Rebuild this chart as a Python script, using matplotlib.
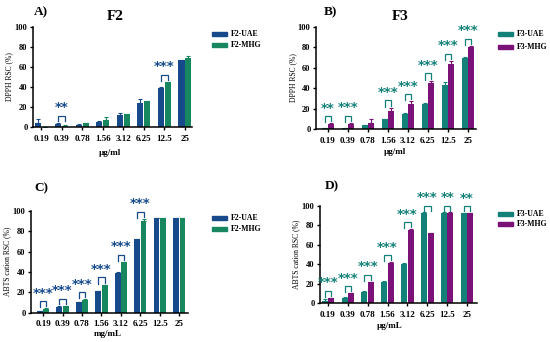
import matplotlib
matplotlib.use("Agg")
import matplotlib.pyplot as plt
from matplotlib.patches import Rectangle
import numpy as np

plt.rcParams['font.family'] = ['Liberation Serif', 'DejaVu Serif']

concentrations = ["0.19", "0.39", "0.78", "1.56", "3.12", "6.25", "12.5", "25"]

# Panel A: F2 DPPH
a_uae = [4, 3.5, 2.5, 5, 12.5, 24.5, 39, 67]
a_uae_err = [4, 1, 1, 1, 2, 3.5, 1, 0.5]
a_mhg = [0, 1.5, 4, 7.5, 13, 26, 45, 69]
a_mhg_err = [0, 0.5, 0.5, 2.5, 0.5, 0.5, 0.5, 2]
a_sig = ["", "**", "", "", "", "", "***", ""]

# Panel B: F3 DPPH
b_uae = [0.5, 1, 3.5, 9.5, 15, 24.5, 43.5, 69.5]
b_uae_err = [0.3, 0.3, 0.5, 0.5, 0.5, 1, 2.5, 1]
b_mhg = [4.5, 5, 6, 17.5, 25, 45, 64, 80]
b_mhg_err = [1, 1, 3.5, 3.5, 2, 2.5, 2.5, 1.5]
b_sig = ["**", "***", "", "***", "***", "***", "***", "***"]

# Panel C: F2 ABTS
c_uae = [1, 5.5, 10, 21, 39, 72, 93, 93]
c_uae_err = [0.3, 0.5, 0.5, 0.5, 0.5, 0.5, 0.3, 0.3]
c_mhg = [3.5, 6, 12.5, 27, 49.5, 90, 93, 93]
c_mhg_err = [0.5, 0.5, 0.5, 0.5, 0.5, 2, 0.3, 0.3]
c_sig = ["***", "***", "***", "***", "***", "***", "", ""]

# Panel D: F3 ABTS
d_uae = [2, 5.5, 11.5, 21.5, 40.5, 93, 93, 92.5]
d_uae_err = [2, 0.5, 0.5, 1, 0.5, 0.3, 0.3, 0.3]
d_mhg = [5, 10, 21.5, 41, 75.5, 72, 93, 92.5]
d_mhg_err = [0.5, 0.5, 0.5, 1, 0.5, 0.3, 0.3, 0.3]
d_sig = ["***", "***", "***", "***", "***", "***", "**", "**"]

BLUE = "#174a8b"
GREEN = "#16875f"
TEAL = "#138178"
PURPLE = "#7a1277"

W, H = 550, 342
fig = plt.figure(figsize=(5.5, 3.42), dpi=100)


def px_axes(x0, x1, y100, y0):
    return fig.add_axes([x0 / W, 1 - y0 / H, (x1 - x0) / W, (y0 - y100) / H])


def panel(rect, uae, uae_err, mhg, mhg_err, sig, c1, c2, names, ylabel, xlabel,
          xlim, title, tpos, letter, lpos, legpos, xlpos, ylpx):
    ax = px_axes(*rect)
    x = np.arange(len(concentrations))
    bw = 0.3
    off = bw / 2 + 0.015
    ax.bar(x - off, uae, bw, color=c1, yerr=[np.zeros(len(uae)), uae_err],
           error_kw=dict(ecolor=c1, elinewidth=0.8, capsize=1.2, capthick=0.8))
    ax.bar(x + off, mhg, bw, color=c2, yerr=[np.zeros(len(mhg)), mhg_err],
           error_kw=dict(ecolor=c2, elinewidth=0.8, capsize=1.2, capthick=0.8))
    ax.set_xlim(*xlim)
    ax.set_ylim(0, 100)
    ax.set_yticks([0, 20, 40, 60, 80, 100])
    ax.set_xticks(x)
    ax.set_xticklabels(concentrations)
    for s in ["top", "right"]:
        ax.spines[s].set_visible(False)
    for s in ["left", "bottom"]:
        ax.spines[s].set_linewidth(1.1)
    ax.tick_params(axis="both", length=2.5, width=1.0, pad=1.5)
    ax.tick_params(axis="x", labelsize=6.5, pad=3)
    ax.tick_params(axis="y", labelsize=6)
    for lab in ax.get_xticklabels() + ax.get_yticklabels():
        lab.set_fontweight("bold")
    for i, s in enumerate(sig):
        if not s:
            continue
        t1 = uae[i] + uae_err[i]
        t2 = mhg[i] + mhg_err[i]
        h = max(t1, t2) + 7
        xl = x[i] - off
        xr = x[i] + off
        yl = max(t1 + 2, h - 6)
        yr = max(t2 + 2, h - 5)
        ax.plot([xl, xl, xr, xr], [yl, h, h, yr], color=c1, lw=0.9,
                clip_on=False, solid_joinstyle="miter")
        ax.text(x[i], h + 1.5, s, color=c1, ha="center", va="bottom",
                fontsize=9.5, fontweight="bold", family="DejaVu Sans", clip_on=False)
    fig.text(ylpx / W, 1 - ((rect[2] + rect[3]) / 2) / H, ylabel, fontsize=5.5,
             rotation=90, ha="center", va="center")
    fig.text(xlpos[0] / W, 1 - xlpos[1] / H, xlabel, fontsize=6.5, fontweight="bold",
             ha="center", va="center")
    if title:
        fig.text(tpos[0] / W, 1 - tpos[1] / H, title, fontsize=11, fontweight="bold",
                 ha="center", va="center")
    fig.text(lpos[0] / W, 1 - lpos[1] / H, letter, fontsize=9.5, fontweight="bold",
             ha="left", va="center")
    lx, ly1, ly2 = legpos
    for yy, col, nm in [(ly1, c1, names[0]), (ly2, c2, names[1])]:
        fig.patches.append(Rectangle((lx / W, 1 - (yy + 2) / H), 15 / W, 4 / H,
                                     transform=fig.transFigure, color=col))
        fig.text((lx + 19) / W, 1 - yy / H, nm, fontsize=5.6, fontweight="bold",
                 ha="left", va="center")
    return ax


panel((33, 192, 27, 127), a_uae, a_uae_err, a_mhg, a_mhg_err, a_sig, BLUE, GREEN,
      ["F2-UAE", "F2-MHG"], "DPPH RSC (%)", "µg/ml", (-0.4, 7.35),
      "F2", (115, 17), "A)", (34, 12), (212, 34, 45), (110, 153), 9)

panel((316, 476, 27, 129), b_uae, b_uae_err, b_mhg, b_mhg_err, b_sig, TEAL, PURPLE,
      ["F3-UAE", "F3-MHG"], "DPPH RSC (%)", "µg/ml", (-0.6, 7.4),
      "F3", (400, 17), "B)", (324, 12), (498, 34, 47), (395, 152), 293)

panel((31, 188, 211, 312.5), c_uae, c_uae_err, c_mhg, c_mhg_err, c_sig, BLUE, GREEN,
      ["F2-UAE", "F2-MHG"], "ABTS cation RSC (%)", "mg/mL", (-0.62, 7.45),
      None, None, "C)", (34, 188), (212, 218, 229), (108, 334), 7)

panel((320, 477, 206, 303), d_uae, d_uae_err, d_mhg, d_mhg_err, d_sig, TEAL, PURPLE,
      ["F3-UAE", "F3-MHG"], "ABTS cation RSC (%)", "µg/mL", (-0.4, 7.5),
      None, None, "D)", (325, 186), (498, 214, 224), (390, 326), 296)

fig.savefig("out.png", dpi=100)
